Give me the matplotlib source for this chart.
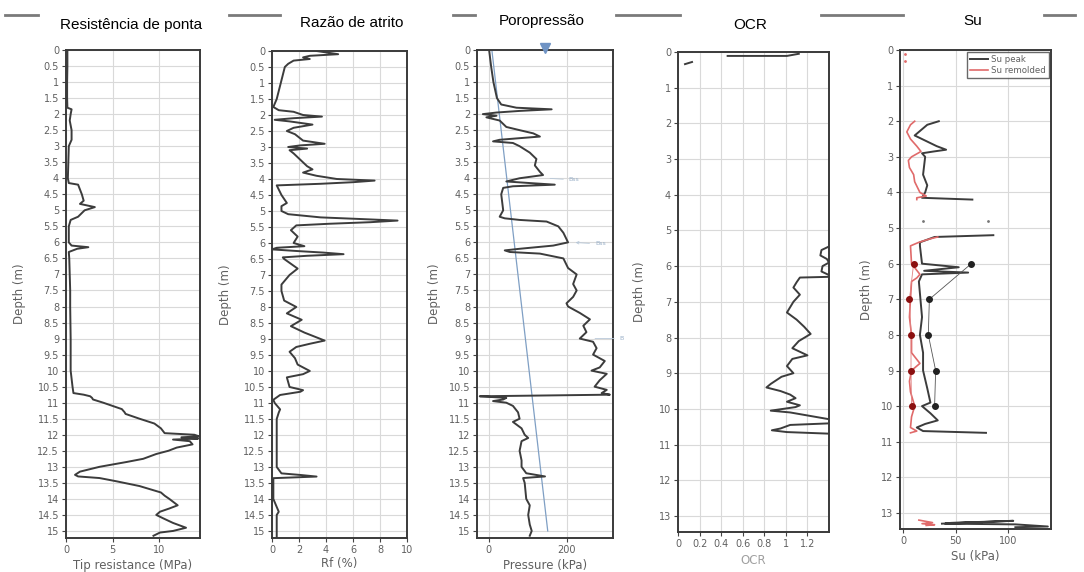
import matplotlib
matplotlib.use("Agg")
import matplotlib.pyplot as plt
from matplotlib.lines import Line2D
import numpy as np

plt.rcParams['font.family'] = ['DejaVu Sans']

# ---------------- data (depth in m, value) ----------------
panel_titles = ["Resistência de ponta", "Razão de atrito", "Poropressão", "OCR", "Su"]

qc_profile = [(0, 0.15), (0.5, 0.15), (1.0, 0.12), (1.5, 0.12), (1.8, 0.15), (1.85, 0.6), (2.0, 0.5),
              (2.2, 0.4), (2.5, 0.6), (2.8, 0.6), (3.0, 0.3), (3.5, 0.25), (4.0, 0.2), (4.15, 0.3),
              (4.2, 1.3), (4.5, 1.7), (4.7, 1.9), (4.8, 1.5), (4.9, 3.1), (5.0, 2.0), (5.2, 1.3),
              (5.3, 0.5), (5.5, 0.3), (6.0, 0.3), (6.1, 0.6), (6.15, 2.4), (6.2, 1.2), (6.3, 0.3),
              (6.5, 0.35), (7.0, 0.4), (7.5, 0.45), (8.0, 0.45), (9.0, 0.5), (10.0, 0.5), (10.5, 0.7),
              (10.7, 0.8), (10.75, 1.9), (10.8, 2.6), (10.85, 2.8), (10.9, 2.9), (11.0, 4.0),
              (11.2, 6.0), (11.3, 6.3), (11.35, 6.4), (11.5, 7.9), (11.65, 9.5), (11.8, 10.2),
              (11.95, 10.6), (12.0, 13.8), (12.05, 14.3), (12.08, 12.4), (12.12, 14.2), (12.15, 11.5),
              (12.2, 13.3), (12.3, 13.6), (12.4, 11.9), (12.5, 11.0), (12.6, 9.7), (12.75, 8.3),
              (12.85, 6.5), (13.0, 3.6), (13.15, 1.5), (13.25, 0.97), (13.3, 1.3), (13.35, 3.6),
              (13.45, 5.4), (13.6, 7.9), (13.8, 10.2), (13.9, 10.6), (14.0, 11.1), (14.2, 12.0),
              (14.3, 11.1), (14.4, 10.1), (14.5, 9.7), (14.6, 10.4), (14.75, 11.5), (14.9, 12.9),
              (15.0, 11.5), (15.05, 10.1), (15.15, 9.4)]

rf_profile = [(0.0, 3.3), (0.1, 4.9), (0.15, 2.8), (0.2, 2.3), (0.25, 2.8), (0.3, 1.6), (0.4, 1.2),
              (0.5, 0.95), (1.0, 0.65), (1.5, 0.35), (1.75, 0.1), (1.85, 0.5), (1.9, 1.6), (2.0, 2.3),
              (2.05, 3.7), (2.1, 1.6), (2.15, 0.2), (2.2, 1.3), (2.3, 3.0), (2.4, 1.6), (2.5, 1.1),
              (2.6, 1.7), (2.8, 2.3), (2.9, 3.9), (2.95, 2.1), (3.0, 1.2), (3.05, 2.6), (3.1, 1.3),
              (3.2, 1.6), (3.4, 2.1), (3.6, 2.6), (3.7, 3.0), (3.8, 2.3), (3.9, 3.3), (4.0, 4.8),
              (4.05, 7.6), (4.1, 6.0), (4.15, 3.6), (4.2, 0.35), (4.5, 0.7), (4.75, 1.1), (4.85, 0.7),
              (5.0, 0.7), (5.1, 1.2), (5.2, 3.6), (5.25, 6.5), (5.3, 9.3), (5.35, 7.3), (5.4, 4.2),
              (5.45, 1.8), (5.6, 1.4), (5.8, 1.9), (6.0, 1.6), (6.1, 2.4), (6.15, 0.35), (6.2, 0.0),
              (6.25, 1.8), (6.3, 3.8), (6.35, 5.3), (6.4, 2.6), (6.45, 0.8), (6.5, 0.9), (6.8, 1.9),
              (7.0, 1.3), (7.3, 0.7), (7.5, 0.7), (7.8, 0.9), (8.0, 1.8), (8.2, 1.1), (8.4, 2.2),
              (8.6, 1.4), (8.8, 2.4), (9.05, 3.9), (9.15, 2.8), (9.25, 1.8), (9.4, 1.3), (9.6, 1.7),
              (9.8, 1.9), (10.0, 2.8), (10.1, 2.3), (10.2, 1.1), (10.5, 1.3), (10.6, 2.3), (10.65, 2.1),
              (10.75, 0.6), (10.9, 0.1), (11.0, 0.2), (11.2, 0.6), (11.3, 0.5), (11.5, 0.35),
              (12.5, 0.35), (13.0, 0.35), (13.2, 0.7), (13.25, 2.1), (13.3, 3.3), (13.35, 0.1),
              (13.5, 0.1), (14.0, 0.1), (14.4, 0.5), (14.5, 0.35), (15.2, 0.35)]

u2_profile = [(0.0, 1), (0.5, 6), (1.0, 12), (1.5, 21), (1.7, 32), (1.8, 71), (1.85, 161), (1.9, 79),
              (1.95, 20), (2.0, -15), (2.05, 20), (2.1, -6), (2.2, 28), (2.4, 45), (2.5, 79), (2.6, 114),
              (2.7, 131), (2.75, 79), (2.8, 28), (2.85, 11), (2.9, 62), (3.0, 79), (3.2, 105),
              (3.4, 122), (3.6, 118), (3.8, 131), (3.9, 139), (4.0, 79), (4.1, 45), (4.15, 105),
              (4.2, 169), (4.25, 62), (4.3, 37), (4.5, 32), (5.0, 37), (5.2, 28), (5.25, 41), (5.3, 79),
              (5.35, 148), (5.5, 178), (5.7, 191), (5.9, 199), (6.0, 203), (6.1, 165), (6.2, 79),
              (6.25, 41), (6.3, 54), (6.35, 131), (6.5, 191), (6.8, 203), (7.0, 225), (7.3, 216),
              (7.5, 225), (7.7, 216), (7.9, 199), (8.0, 203), (8.2, 233), (8.4, 259), (8.6, 242),
              (8.8, 250), (9.0, 233), (9.1, 267), (9.3, 276), (9.5, 267), (9.7, 297), (9.9, 284),
              (10.0, 263), (10.1, 302), (10.3, 284), (10.5, 271), (10.6, 302), (10.7, 289),
              (10.75, 310), (10.8, -23), (10.85, 45), (10.9, 37), (10.95, 11), (11.0, 45), (11.1, 62),
              (11.3, 75), (11.5, 79), (11.6, 62), (11.8, 84), (12.0, 92), (12.1, 101), (12.2, 84),
              (12.5, 79), (12.8, 84), (13.0, 84), (13.2, 96), (13.3, 144), (13.35, 88), (13.5, 92),
              (14.0, 96), (14.2, 105), (14.5, 101), (14.8, 105), (15.0, 110), (15.15, 105)]

u0_line = [(0.0, 8), (15.0, 151)]

ocr_dash = [(0.34, 0.065), (0.28, 0.13)]
ocr_top = [(0.11, 0.46), (0.11, 1.01), (0.05, 1.12)]
ocr_profile = [(5.45, 1.4), (5.55, 1.33), (5.7, 1.32), (5.8, 1.38), (5.9, 1.4), (6.0, 1.34),
               (6.15, 1.33), (6.25, 1.4), (6.3, 1.4), (6.32, 1.13), (6.45, 1.1), (6.6, 1.07),
               (6.8, 1.13), (7.0, 1.07), (7.3, 1.01), (7.5, 1.1), (7.7, 1.17), (7.9, 1.23),
               (8.1, 1.12), (8.3, 1.06), (8.5, 1.2), (8.6, 1.06), (8.8, 1.01), (9.0, 1.07),
               (9.1, 0.96), (9.3, 0.86), (9.4, 0.82), (9.5, 0.95), (9.6, 1.04), (9.7, 1.09),
               (9.8, 1.01), (9.9, 1.13), (9.95, 1.09), (10.05, 0.86), (10.1, 1.04), (10.2, 1.23),
               (10.3, 1.42), (10.4, 1.45), (10.45, 1.04), (10.55, 0.95), (10.6, 0.87), (10.65, 1.01),
               (10.7, 1.45), (10.75, 1.45)]

su_peak_a = [(2.0, 34), (2.1, 23), (2.4, 11), (2.5, 18), (2.7, 32), (2.8, 41), (2.85, 29), (2.9, 18),
             (3.0, 21), (3.5, 19), (3.8, 23), (4.0, 21), (4.15, 18), (4.2, 66)]
su_peak_b = [(5.2, 86), (5.25, 30), (5.4, 16), (5.5, 16), (6.0, 18), (6.1, 53), (6.2, 20), (6.25, 62),
             (6.3, 18), (6.5, 15), (7.0, 16.5), (7.5, 18), (8.0, 16), (8.5, 19), (9.0, 19), (9.5, 23),
             (9.9, 26), (10.0, 18), (10.2, 26), (10.4, 33), (10.5, 21), (10.6, 13), (10.7, 19),
             (10.75, 79)]
su_peak_c = [(13.3, 37), (13.22, 105), (13.28, 45), (13.27, 75), (13.3, 40), (13.32, 107),
             (13.38, 138), (13.4, 107)]
su_rem_a = [(2.0, 11), (2.1, 7), (2.3, 3.5), (2.5, 7), (2.7, 13), (2.85, 17), (3.0, 8), (3.1, 5),
            (3.3, 6), (3.5, 10), (3.7, 11), (4.0, 16), (4.1, 22), (4.15, 13), (4.2, 13)]
su_rem_b = [(5.25, 33), (5.3, 26), (5.4, 15), (5.5, 7), (6.0, 8), (6.3, 16), (6.4, 13), (6.5, 8),
            (7.0, 7), (7.5, 6), (8.0, 8), (8.5, 8), (8.8, 16), (9.0, 8), (9.3, 6), (9.6, 7),
            (10.0, 11), (10.3, 8), (10.6, 7), (10.7, 13), (10.75, 7)]
su_rem_c = [(13.2, 15), (13.27, 28), (13.3, 18), (13.33, 30), (13.35, 22)]
lab_depth = [6, 7, 8, 9, 10]
lab_su_peak = [65, 25, 24, 31, 30]
lab_su_rem = [10, 6, 7.5, 7.5, 8]

LINE = '#3c3c3c'
TXT = '#606060'


def xy(profile):
    d, v = zip(*profile)
    return np.array(v), np.array(d)


fig = plt.figure(figsize=(10.84, 5.72), dpi=100)


def add_ax(x0, y0, x1, y1):
    return fig.add_axes([x0 / 1084, 1 - y1 / 572, (x1 - x0) / 1084, (y1 - y0) / 572])


def style(ax, xlim, ylim, xticks, xlabels, yticks, xlabel, ylab_x, xlab_y):
    ax.set_xlim(*xlim)
    ax.set_ylim(ylim, 0)
    ax.set_xticks(xticks)
    ax.set_xticklabels(xlabels)
    ax.set_yticks(yticks)
    ax.set_yticklabels([f"{t:g}" for t in yticks])
    ax.grid(True, color='#d9d9d9', lw=0.8)
    ax.set_axisbelow(True)
    for s in ax.spines.values():
        s.set_color('#3a3a3a')
        s.set_linewidth(1.4)
    ax.tick_params(labelsize=7, labelcolor=TXT, length=3, width=0.8, color='#444', pad=2)
    ax.set_xlabel(xlabel, fontsize=8.5, color=TXT)
    ax.set_ylabel('Depth (m)', fontsize=8.5, color=TXT)
    ax.yaxis.set_label_coords(ylab_x, 0.5)
    ax.xaxis.set_label_coords(0.5, xlab_y)


half = np.arange(0, 15.01, 0.5)

# panel 1 - tip resistance
ax1 = add_ax(66, 50, 200, 538)
v, d = xy(qc_profile)
ax1.plot(v, d, color=LINE, lw=1.4)
style(ax1, (0, 14.4), 15.22, [0, 5, 10], ['0', '5', '10'], half, 'Tip resistance (MPa)', -0.30, -0.043)

# panel 2 - friction ratio
ax2 = add_ax(272, 51, 407, 538)
v, d = xy(rf_profile)
ax2.plot(v, d, color=LINE, lw=1.4)
style(ax2, (0, 10), 15.22, [0, 2, 4, 6, 8, 10], ['0', '2', '4', '6', '8', '10'], half, 'Rf (%)', -0.30, -0.039)

# panel 3 - pore pressure
ax3 = add_ax(477, 50, 613, 538)
v, d = xy(u0_line)
ax3.plot(v, d, color='#7f9fc4', lw=0.9)
v, d = xy(u2_profile)
ax3.plot(v, d, color=LINE, lw=1.4)
ax3.plot([143], [-0.07], marker='v', color='#6f93c4', ms=7, clip_on=False, zorder=5)
ax3.annotate('Bss', xy=(150, 4.0), xytext=(205, 4.05), fontsize=4.5, color='#9ab0c8', va='center',
             arrowprops=dict(arrowstyle='-', color='#b8c8d8', lw=0.6))
ax3.annotate('Bss', xy=(215, 6.0), xytext=(272, 6.05), fontsize=4.5, color='#9ab0c8', va='center',
             arrowprops=dict(arrowstyle='->', color='#b8c8d8', lw=0.6))
ax3.annotate('B', xy=(265, 9.0), xytext=(335, 9.0), fontsize=4.5, color='#9ab0c8', va='center',
             annotation_clip=False, arrowprops=dict(arrowstyle='-', color='#b8c8d8', lw=0.6))
style(ax3, (-30, 318), 15.22, [0, 200], ['0', '200'], half, 'Pressure (kPa)', -0.265, -0.043)

# panel 4 - OCR
ax4 = add_ax(678, 52, 829, 532)
for seg in (ocr_dash, ocr_top, ocr_profile):
    v, d = xy(seg)
    ax4.plot(v, d, color=LINE, lw=1.4)
ocr_ticks = [0, 0.2, 0.4, 0.6, 0.8, 1.0, 1.2]
style(ax4, (0, 1.4), 13.45, ocr_ticks, [f"{t:g}" for t in ocr_ticks], np.arange(0, 13.1, 1), 'OCR', -0.21, -0.046)
ax4.xaxis.label.set_color('#a0a0a0')

# panel 5 - undrained shear strength
ax5 = add_ax(900, 50, 1051, 529)
for i, seg in enumerate((su_peak_a, su_peak_b, su_peak_c)):
    v, d = xy(seg)
    ax5.plot(v, d, color=LINE, lw=1.4, label='Su peak' if i == 0 else None)
for i, seg in enumerate((su_rem_a, su_rem_b, su_rem_c)):
    v, d = xy(seg)
    ax5.plot(v, d, color='#e06a6a', lw=1.2, label='Su remolded' if i == 0 else None)
ax5.plot(lab_su_peak, lab_depth, color='#555555', lw=0.6, marker='o', ms=4, mfc='#222222', mec='#222222')
ax5.plot(lab_su_rem, lab_depth, color='#e08080', lw=0.6, marker='o', ms=4, mfc='#8b1010', mec='#8b1010')
ax5.plot([19, 81], [4.8, 4.8], ls='none', marker='.', ms=2, color='#777777')
ax5.plot([2, 2], [0.1, 0.3], ls='none', marker='.', ms=2, color='#e06a6a')
leg = ax5.legend(loc='upper right', fontsize=6.2, frameon=True, fancybox=False, handlelength=2.0,
                 borderpad=0.35, labelspacing=0.25, handletextpad=0.4, borderaxespad=0.25)
leg.get_frame().set_edgecolor('#444444')
leg.get_frame().set_linewidth(1.0)
for t in leg.get_texts():
    t.set_color(TXT)
style(ax5, (-3, 141), 13.45, [0, 50, 100], ['0', '50', '100'], np.arange(0, 13.1, 1), 'Su (kPa)', -0.18, -0.044)

# panel titles and top decoration lines
title_x = [131, 352, 542, 750, 973]
title_y = [25, 23, 21, 25, 21]
for t, x, y in zip(panel_titles, title_x, title_y):
    fig.text(x / 1084, 1 - y / 572, t, fontsize=11, family='Liberation Sans', ha='center', va='center')
for x0, x1 in [(5, 38), (229, 280), (453, 475), (616, 680), (821, 903), (1044, 1075)]:
    fig.add_artist(Line2D([x0 / 1084, x1 / 1084], [1 - 15 / 572] * 2, color='#7a7a7a', lw=2,
                          transform=fig.transFigure))

fig.savefig('out.png', dpi=100)
